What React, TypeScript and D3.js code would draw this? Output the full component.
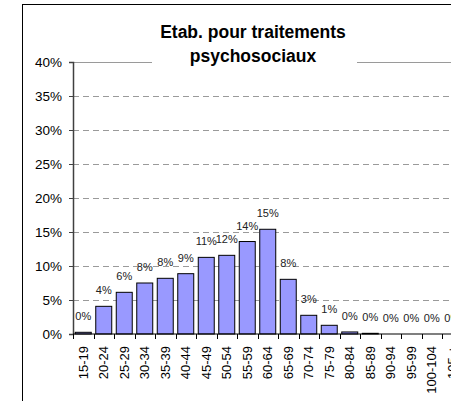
import * as d3 from "d3";
import { useEffect, useRef } from "react";

const categories = [
  "15-19", "20-24", "25-29", "30-34", "35-39", "40-44", "45-49", "50-54", "55-59", "60-64",
  "65-69", "70-74", "75-79", "80-84", "85-89", "90-94", "95-99", "100-104", "105 +",
];
const values = [
  0.0025, 0.0407, 0.0613, 0.075, 0.0819, 0.0887, 0.1127, 0.1157, 0.136, 0.154,
  0.0804, 0.0275, 0.0128, 0.003, 0.001, 0, 0, 0, 0,
];
const yTicks = [0, 0.05, 0.1, 0.15, 0.2, 0.25, 0.3, 0.35, 0.4];
const titleLines = ["Etab. pour traitements", "psychosociaux"];

const font = "'Liberation Sans', Arial, sans-serif";

const App = () => {
  const ref = useRef<SVGSVGElement>(null);

  useEffect(() => {
    const svg = d3.select(ref.current);
    svg.selectAll("*").remove();

    const left = 73;
    const top = 62;
    const bottom = 334;
    const step = 20.5;

    const x = d3
      .scaleBand()
      .domain(categories)
      .range([left, left + categories.length * step])
      .paddingInner(0.22)
      .paddingOuter(0.11);
    const y = d3.scaleLinear().domain([0, 0.4]).range([bottom, top]);
    const pct = d3.format(".0%");

    svg.append("rect").attr("width", 451).attr("height", 401).attr("fill", "#fff");

    // outer chart frame
    svg
      .append("rect")
      .attr("x", 22.5)
      .attr("y", 4.5)
      .attr("width", 600)
      .attr("height", 600)
      .attr("fill", "none")
      .attr("stroke", "#000");

    // gridlines
    svg
      .append("g")
      .selectAll("line")
      .data(yTicks.slice(1))
      .join("line")
      .attr("x1", left)
      .attr("x2", 460)
      .attr("y1", (d) => Math.round(y(d)) + 0.5)
      .attr("y2", (d) => Math.round(y(d)) + 0.5)
      .attr("stroke", "#9a9a9a")
      .attr("stroke-width", 1.2)
      .attr("stroke-dasharray", (d) => (d === 0.4 ? null : "6,4"));

    // y axis
    const yAxis = svg
      .append("g")
      .attr("transform", `translate(${left},0)`)
      .call(d3.axisLeft(y).tickValues(yTicks).tickFormat(pct).tickSize(4).tickPadding(7));
    yAxis.select(".domain").attr("stroke", "#404040").attr("stroke-width", 1.5);
    yAxis.selectAll(".tick line").attr("stroke", "#404040");
    yAxis.selectAll("text").attr("font-family", font).attr("font-size", 13.5).attr("fill", "#000");

    // bars
    svg
      .append("g")
      .selectAll("rect")
      .data(values)
      .join("rect")
      .attr("x", (_, i) => x(categories[i])!)
      .attr("y", (d) => y(d))
      .attr("width", x.bandwidth())
      .attr("height", (d) => bottom - y(d))
      .attr("fill", "#9999ff")
      .attr("stroke", "#000")
      .attr("stroke-width", 1);

    // data labels
    svg
      .append("g")
      .selectAll("text")
      .data(values)
      .join("text")
      .attr("x", (_, i) => x(categories[i])! + x.bandwidth() / 2)
      .attr("y", (d) => y(d) - 12)
      .attr("text-anchor", "middle")
      .attr("font-family", font)
      .attr("font-size", 11)
      .attr("fill", "#222")
      .text((d) => pct(d));

    // x axis
    const xAxis = svg.append("g").attr("transform", `translate(0,${bottom})`);
    xAxis
      .append("line")
      .attr("x1", left)
      .attr("x2", 460)
      .attr("stroke", "#000")
      .attr("stroke-width", 1.2);
    xAxis
      .selectAll(".tk")
      .data(d3.range(categories.length + 1))
      .join("line")
      .attr("class", "tk")
      .attr("x1", (i) => Math.round(left + i * x.step()) + 0.5)
      .attr("x2", (i) => Math.round(left + i * x.step()) + 0.5)
      .attr("y1", 0)
      .attr("y2", 5)
      .attr("stroke", "#000");
    xAxis
      .selectAll("text")
      .data(categories)
      .join("text")
      .attr(
        "transform",
        (d) => `translate(${x(d)! + x.bandwidth() / 2},12) rotate(-90)`
      )
      .attr("text-anchor", "end")
      .attr("dy", "0.35em")
      .attr("font-family", font)
      .attr("font-size", 13)
      .attr("fill", "#000")
      .text((d) => d);

    // title
    svg
      .append("rect")
      .attr("x", 152)
      .attr("y", 14)
      .attr("width", 205)
      .attr("height", 58)
      .attr("fill", "#fff");
    svg
      .append("g")
      .selectAll("text")
      .data(titleLines)
      .join("text")
      .attr("x", 253)
      .attr("y", (_, i) => 38 + i * 23.5)
      .attr("text-anchor", "middle")
      .attr("font-family", font)
      .attr("font-size", 17.5)
      .attr("font-weight", "bold")
      .attr("fill", "#000")
      .text((d) => d);
  }, []);

  return (
    <svg
      ref={ref}
      width={451}
      height={401}
      style={{ position: "absolute", left: 0, top: 0, display: "block" }}
    />
  );
};

export default App;
